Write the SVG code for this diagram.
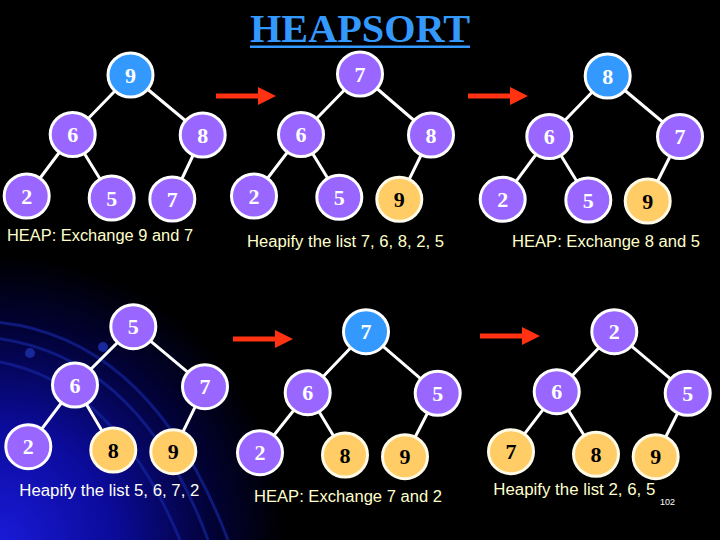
<svg xmlns="http://www.w3.org/2000/svg" width="720" height="540" viewBox="0 0 720 540">
<defs>
<radialGradient id="bg" cx="0" cy="540" r="285" gradientUnits="userSpaceOnUse">
<stop offset="0" stop-color="#1a1ad8"/>
<stop offset="0.4" stop-color="#0b0b9a"/>
<stop offset="0.75" stop-color="#020235"/>
<stop offset="1" stop-color="#000000"/>
</radialGradient>
<path id="arrow" d="M0,-2.5 H42 V-9 L60,0 L42,9 V2.5 H0 Z" fill="#ff3311"/>
<style>
.e{stroke:#ffffff;stroke-width:3;fill:none}
.n ellipse{stroke:#ffffff;stroke-width:3}
.b ellipse{fill:#3399ff}
.p ellipse{fill:#9966ff}
.o ellipse{fill:#ffcc66;stroke:#fffbe8}
.n text{font-family:"Liberation Serif","Times New Roman",serif;font-weight:bold;font-size:22px;text-anchor:middle;fill:#ffffff}
.o text{fill:#000000}
.cap{font-family:"Liberation Sans",Arial,sans-serif;font-size:16px;fill:#ffffcc}
.arc{stroke:#14249a;stroke-width:3;fill:none;opacity:0.7}
</style>
</defs>
<rect width="720" height="540" fill="#000000"/>
<rect width="720" height="540" fill="url(#bg)"/>
<g id="background-arcs">
<path class="arc" d="M-5,322 Q150,336 228,540"/>
<path class="arc" d="M-5,338 Q140,356 208,540"/>
<path class="arc" d="M0,362 Q115,384 180,540"/>
<circle cx="30" cy="353" r="5" fill="#18289a"/>
<circle cx="103" cy="347" r="5" fill="#18289a"/>
</g>
<g id="title">
<text x="360" y="42" text-anchor="middle" font-family="Liberation Serif, Times New Roman, serif" font-weight="bold" font-size="40" fill="#3399ff" textLength="220" lengthAdjust="spacingAndGlyphs">HEAPSORT</text>
<rect x="250" y="45.5" width="220" height="2.5" fill="#3399ff"/>
</g>
<g id="connectors">
<path class="e" d="M130.5,75 L72.7,134.5 M130.5,75 L202.7,135 M72.7,134.5 L26.7,196 M72.7,134.5 L111.7,198 M202.7,135 L172.3,199"/>
<path class="e" d="M360,74 L301,134.5 M360,74 L431,135 M301,134.5 L254,196 M301,134.5 L339.3,197.3 M431,135 L399.3,199.3"/>
<path class="e" d="M607.7,76 L549.3,136.5 M607.7,76 L680,136.5 M549.3,136.5 L502.7,199.3 M549.3,136.5 L588.3,200 M680,136.5 L647.7,201"/>
<path class="e" d="M133.3,326.7 L75,385 M133.3,326.7 L205,386.7 M75,385 L28.3,446.7 M75,385 L113.3,450 M205,386.7 L173.3,451.7"/>
<path class="e" d="M366,331.7 L307.7,392.7 M366,331.7 L437.7,393.3 M307.7,392.7 L260,452.7 M307.7,392.7 L345,455 M437.7,393.3 L405,456.7"/>
<path class="e" d="M614.3,331.7 L556.7,391.7 M614.3,331.7 L687.7,393.3 M556.7,391.7 L511,451.7 M556.7,391.7 L596,454.3 M687.7,393.3 L655.7,456.7"/>
<use href="#arrow" x="216" y="96"/>
<use href="#arrow" x="468" y="96"/>
<use href="#arrow" x="233" y="339"/>
<use href="#arrow" x="480" y="336"/>
</g>
<g id="tree1">
<g id="t1-9" class="n b"><ellipse cx="130.5" cy="75" rx="22.5" ry="22"/><text x="130.5" y="82.5">9</text></g>
<g id="t1-6" class="n p"><ellipse cx="72.7" cy="134.5" rx="22.5" ry="22"/><text x="72.7" y="142">6</text></g>
<g id="t1-8" class="n p"><ellipse cx="202.7" cy="135" rx="22.5" ry="22"/><text x="202.7" y="142.5">8</text></g>
<g id="t1-2" class="n p"><ellipse cx="26.7" cy="196" rx="22.5" ry="22"/><text x="26.7" y="203.5">2</text></g>
<g id="t1-5" class="n p"><ellipse cx="111.7" cy="198" rx="22.5" ry="22"/><text x="111.7" y="205.5">5</text></g>
<g id="t1-7" class="n p"><ellipse cx="172.3" cy="199" rx="22.5" ry="22"/><text x="172.3" y="206.5">7</text></g>
</g>
<g id="tree2">
<g id="t2-7" class="n p"><ellipse cx="360" cy="74" rx="22.5" ry="22"/><text x="360" y="81.5">7</text></g>
<g id="t2-6" class="n p"><ellipse cx="301" cy="134.5" rx="22.5" ry="22"/><text x="301" y="142">6</text></g>
<g id="t2-8" class="n p"><ellipse cx="431" cy="135" rx="22.5" ry="22"/><text x="431" y="142.5">8</text></g>
<g id="t2-2" class="n p"><ellipse cx="254" cy="196" rx="22.5" ry="22"/><text x="254" y="203.5">2</text></g>
<g id="t2-5" class="n p"><ellipse cx="339.3" cy="197.3" rx="22.5" ry="22"/><text x="339.3" y="204.8">5</text></g>
<g id="t2-9" class="n o"><ellipse cx="399.3" cy="199.3" rx="22.5" ry="22"/><text x="399.3" y="206.8">9</text></g>
</g>
<g id="tree3">
<g id="t3-8" class="n b"><ellipse cx="607.7" cy="76" rx="22.5" ry="22"/><text x="607.7" y="83.5">8</text></g>
<g id="t3-6" class="n p"><ellipse cx="549.3" cy="136.5" rx="22.5" ry="22"/><text x="549.3" y="144">6</text></g>
<g id="t3-7" class="n p"><ellipse cx="680" cy="136.5" rx="22.5" ry="22"/><text x="680" y="144">7</text></g>
<g id="t3-2" class="n p"><ellipse cx="502.7" cy="199.3" rx="22.5" ry="22"/><text x="502.7" y="206.8">2</text></g>
<g id="t3-5" class="n p"><ellipse cx="588.3" cy="200" rx="22.5" ry="22"/><text x="588.3" y="207.5">5</text></g>
<g id="t3-9" class="n o"><ellipse cx="647.7" cy="201" rx="22.5" ry="22"/><text x="647.7" y="208.5">9</text></g>
</g>
<g id="tree4">
<g id="t4-5" class="n p"><ellipse cx="133.3" cy="326.7" rx="22.5" ry="22"/><text x="133.3" y="334.2">5</text></g>
<g id="t4-6" class="n p"><ellipse cx="75" cy="385" rx="22.5" ry="22"/><text x="75" y="392.5">6</text></g>
<g id="t4-7" class="n p"><ellipse cx="205" cy="386.7" rx="22.5" ry="22"/><text x="205" y="394.2">7</text></g>
<g id="t4-2" class="n p"><ellipse cx="28.3" cy="446.7" rx="22.5" ry="22"/><text x="28.3" y="454.2">2</text></g>
<g id="t4-8" class="n o"><ellipse cx="113.3" cy="450" rx="22.5" ry="22"/><text x="113.3" y="457.5">8</text></g>
<g id="t4-9" class="n o"><ellipse cx="173.3" cy="451.7" rx="22.5" ry="22"/><text x="173.3" y="459.2">9</text></g>
</g>
<g id="tree5">
<g id="t5-7" class="n b"><ellipse cx="366" cy="331.7" rx="22.5" ry="22"/><text x="366" y="339.2">7</text></g>
<g id="t5-6" class="n p"><ellipse cx="307.7" cy="392.7" rx="22.5" ry="22"/><text x="307.7" y="400.2">6</text></g>
<g id="t5-5" class="n p"><ellipse cx="437.7" cy="393.3" rx="22.5" ry="22"/><text x="437.7" y="400.8">5</text></g>
<g id="t5-2" class="n p"><ellipse cx="260" cy="452.7" rx="22.5" ry="22"/><text x="260" y="460.2">2</text></g>
<g id="t5-8" class="n o"><ellipse cx="345" cy="455" rx="22.5" ry="22"/><text x="345" y="462.5">8</text></g>
<g id="t5-9" class="n o"><ellipse cx="405" cy="456.7" rx="22.5" ry="22"/><text x="405" y="464.2">9</text></g>
</g>
<g id="tree6">
<g id="t6-2" class="n p"><ellipse cx="614.3" cy="331.7" rx="22.5" ry="22"/><text x="614.3" y="339.2">2</text></g>
<g id="t6-6" class="n p"><ellipse cx="556.7" cy="391.7" rx="22.5" ry="22"/><text x="556.7" y="399.2">6</text></g>
<g id="t6-5" class="n p"><ellipse cx="687.7" cy="393.3" rx="22.5" ry="22"/><text x="687.7" y="400.8">5</text></g>
<g id="t6-7" class="n o"><ellipse cx="511" cy="451.7" rx="22.5" ry="22"/><text x="511" y="459.2">7</text></g>
<g id="t6-8" class="n o"><ellipse cx="596" cy="454.3" rx="22.5" ry="22"/><text x="596" y="461.8">8</text></g>
<g id="t6-9" class="n o"><ellipse cx="655.7" cy="456.7" rx="22.5" ry="22"/><text x="655.7" y="464.2">9</text></g>
</g>
<g id="captions">
<text class="cap" x="7" y="241" textLength="186" lengthAdjust="spacingAndGlyphs">HEAP: Exchange 9 and 7</text>
<text class="cap" x="247" y="247" textLength="197" lengthAdjust="spacingAndGlyphs">Heapify the list 7, 6, 8, 2, 5</text>
<text class="cap" x="512" y="247" textLength="188" lengthAdjust="spacingAndGlyphs">HEAP: Exchange 8 and 5</text>
<text class="cap" x="19.3" y="496" textLength="180" lengthAdjust="spacingAndGlyphs" style="fill:#fffff4">Heapify the list 5, 6, 7, 2</text>
<text class="cap" x="254" y="502" textLength="188" lengthAdjust="spacingAndGlyphs">HEAP: Exchange 7 and 2</text>
<text class="cap" x="493.3" y="495" textLength="162" lengthAdjust="spacingAndGlyphs">Heapify the list 2, 6, 5</text>
<text x="660" y="505" font-family="Liberation Sans, Arial, sans-serif" font-size="9" fill="#ffffff">102</text>
</g>
</svg>
